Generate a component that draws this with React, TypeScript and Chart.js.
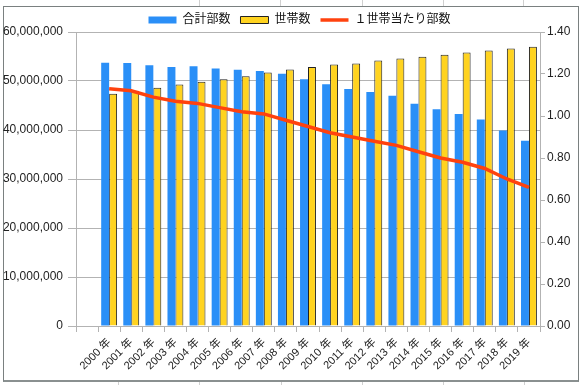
import { useEffect, useRef } from "react";
import { Chart, registerables } from "chart.js";

Chart.register(...registerables);

const categories = [
  "",
  "2000 年", "2001 年", "2002 年", "2003 年", "2004 年",
  "2005 年", "2006 年", "2007 年", "2008 年", "2009 年",
  "2010 年", "2011 年", "2012 年", "2013 年", "2014 年",
  "2015 年", "2016 年", "2017 年", "2018 年", "2019 年",
];

const totalCopies = [
  null,
  53708831, 53680756, 53198444, 52874959, 53021564,
  52568032, 52310478, 52028671, 51491409, 50352831,
  49321840, 48345304, 47777913, 46999468, 45362672,
  44246688, 43276147, 42128189, 39901576, 37811248,
];

const households = [
  null,
  47419905, 48015251, 48637789, 49260791, 49837731,
  50382081, 50993008, 51713048, 52324877, 52877802,
  53362801, 53549522, 54171475, 54594744, 54952108,
  55364197, 55811969, 56221568, 56613999, 56996515,
];

const copiesPerHousehold = [
  null,
  1.13, 1.12, 1.09, 1.07, 1.06,
  1.04, 1.02, 1.01, 0.98, 0.95,
  0.92, 0.9, 0.88, 0.86, 0.83,
  0.8, 0.78, 0.75, 0.7, 0.66,
];

const seriesNames = ["合計部数", "世帯数", "１世帯当たり部数"];

const FONT = "'Liberation Sans', 'Noto Sans CJK JP', sans-serif";
const GRID = "#b3b3b3";

const colLinesTop = [199, 280, 362, 443, 523];
const colLinesBottom = [118, 199, 281, 362, 443, 524];

const shiftLegend = {
  id: "shiftLegend",
  afterLayout(chart: any) {
    const l = chart.legend;
    if (!l) return;
    l.top += 4;
    l.bottom += 4;
    l.left += 9;
    l.right += 9;
  },
};

export default function App() {
  const ref = useRef<HTMLCanvasElement>(null);

  useEffect(() => {
    const chart = new Chart(ref.current!, {
      type: "bar",
      data: {
        labels: categories,
        datasets: [
          {
            label: seriesNames[0],
            data: totalCopies,
            backgroundColor: "#2a8ff7",
            borderWidth: 0,
            yAxisID: "y",
            categoryPercentage: 0.72,
            barPercentage: 1,
            pointStyle: "rect",
            order: 1,
          } as any,
          {
            label: seriesNames[1],
            data: households,
            backgroundColor: "#ffd320",
            borderColor: "#222222",
            borderWidth: 1,
            yAxisID: "y",
            categoryPercentage: 0.72,
            barPercentage: 1,
            pointStyle: "rect",
            order: 1,
          },
          {
            type: "line",
            label: seriesNames[2],
            data: copiesPerHousehold,
            borderColor: "#ff420e",
            backgroundColor: "#ff420e",
            borderWidth: 3.5,
            pointRadius: 0,
            tension: 0,
            yAxisID: "y1",
            pointStyle: "line",
            order: 0,
          } as any,
        ],
      },
      options: {
        responsive: false,
        animation: false,
        devicePixelRatio: 1,
        layout: { padding: { top: 0, left: 0, right: 0, bottom: 0 } },
        plugins: {
          tooltip: { enabled: false },
          legend: {
            position: "top",
            labels: {
              usePointStyle: true,
              pointStyleWidth: 28,
              boxHeight: 7,
              padding: 10,
              color: "#111",
              font: { family: FONT, size: 12 },
              sort: (a: any, b: any) => a.datasetIndex - b.datasetIndex,
            },
          },
        },
        scales: {
          x: {
            offset: true,
            grid: {
              display: true,
              drawOnChartArea: false,
              offset: true,
              tickLength: 6,
              color: GRID,
            },
            border: { display: true, color: GRID },
            ticks: {
              minRotation: 45,
              maxRotation: 45,
              autoSkip: false,
              color: "#222",
              font: { family: FONT, size: 11 },
              padding: 4,
            },
            afterFit: (s: any) => {
              s.height = 59;
            },
          },
          y: {
            position: "left",
            min: 0,
            max: 60000000,
            ticks: {
              stepSize: 10000000,
              color: "#222",
              font: { family: FONT, size: 12 },
              padding: 5,
              callback: (v: any) => Number(v).toLocaleString("en-US"),
            },
            grid: { color: GRID, tickLength: 8 },
            border: { display: true, color: GRID },
            afterFit: (s: any) => {
              s.width = 76;
            },
          },
          y1: {
            position: "right",
            min: 0,
            max: 1.4,
            ticks: {
              stepSize: 0.2,
              color: "#222",
              font: { family: FONT, size: 12 },
              padding: 2,
              callback: (v: any) => Number(v).toFixed(2),
            },
            grid: { drawOnChartArea: false, color: GRID, tickLength: 5 },
            border: { display: true, color: GRID },
            afterFit: (s: any) => {
              s.width = 41;
            },
          },
        },
      },
      plugins: [shiftLegend],
    });
    return () => chart.destroy();
  }, []);

  return (
    <div
      style={{
        position: "fixed",
        left: 0,
        top: 0,
        width: 581,
        height: 385,
        background: "#fff",
        overflow: "hidden",
      }}
    >
      {colLinesTop.map((x) => (
        <div
          key={"t" + x}
          style={{ position: "absolute", left: x, top: 0, width: 1, height: 6, background: "#d0d0d0" }}
        />
      ))}
      {colLinesBottom.map((x) => (
        <div
          key={"b" + x}
          style={{ position: "absolute", left: x, top: 382, width: 1, height: 3, background: "#d0d0d0" }}
        />
      ))}
      <div
        style={{
          position: "absolute",
          left: 3,
          top: 6,
          width: 576,
          height: 376,
          boxSizing: "border-box",
          border: "1px solid #7a8080",
          borderBottom: "2px solid #8a9090",
          background: "#fff",
        }}
      />
      <canvas
        ref={ref}
        width={581}
        height={385}
        style={{ position: "absolute", left: 0, top: 0, width: 581, height: 385 }}
      />
    </div>
  );
}
